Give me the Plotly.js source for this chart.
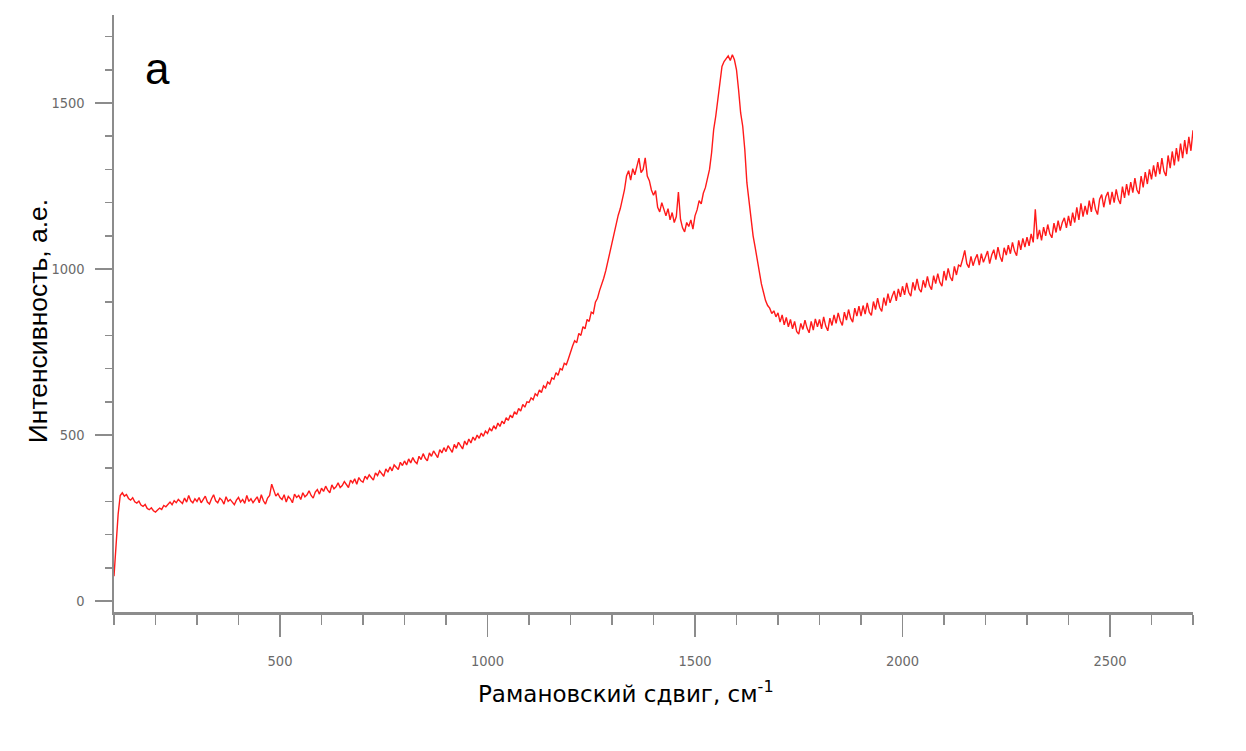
<!DOCTYPE html>
<html>
<head>
<meta charset="utf-8">
<script src="https://cdn.plot.ly/plotly-3.0.1.min.js"></script>
<style>html,body{margin:0;padding:0;background:#fff;}#chart{width:1246px;height:751px;}</style>
</head>
<body>
<div id="chart"></div>
<script>
// Raman shift, cm^-1 (step 5, 100 .. 2700)
const ramanShift = [];
for (let v = 100; v <= 2700; v += 5) ramanShift.push(v);

// Intensity, a.u., one row per 100 cm^-1
const intensity = [
 75,165,262,318,326,316,321,309,304,311,299,295,301,289,285,291,279,275,281,272,
 268,274,280,276,288,284,292,298,290,302,296,306,300,294,310,298,318,302,296,308,
 300,312,296,305,316,298,292,308,320,302,296,310,304,292,314,300,306,298,290,304,
 312,298,306,294,318,300,308,296,304,314,296,320,302,292,310,318,352,330,316,324,
 312,306,320,298,315,308,296,322,312,318,306,326,314,320,332,318,310,328,336,322,
 340,330,346,334,326,350,338,344,356,342,348,360,350,342,364,356,368,352,372,362,
 358,376,368,380,372,364,386,378,392,382,376,398,388,404,392,410,402,396,418,408,
 422,410,428,416,432,420,414,436,426,444,430,422,446,436,452,440,432,456,446,462,
 450,468,456,448,472,460,478,466,458,482,470,488,476,494,484,500,490,506,496,512,
 505,520,512,528,518,536,526,542,534,552,544,560,552,570,562,580,572,592,584,600,
 598,612,606,624,618,636,628,648,642,660,654,672,668,688,680,700,696,716,712,730,
 752,768,784,778,806,800,826,820,848,842,870,866,900,912,935,952,972,995,1022,1052,
 1085,1110,1132,1162,1182,1212,1238,1280,1296,1268,1302,1284,1310,1334,1290,1300,1335,1280,1266,1238,
 1222,1236,1186,1172,1200,1176,1160,1182,1148,1170,1140,1158,1232,1150,1124,1112,1140,1128,1148,1120,
 1160,1178,1206,1196,1228,1245,1275,1300,1350,1420,1460,1505,1550,1610,1625,1632,1642,1628,1645,1630,
 1600,1540,1470,1430,1360,1260,1200,1150,1100,1065,1030,985,955,930,905,890,882,866,874,856,
 868,840,862,832,854,826,848,820,842,812,804,836,818,846,822,808,842,816,850,826,
 848,820,856,828,814,852,830,862,836,868,844,830,870,846,878,852,840,882,858,888,
 858,890,864,898,870,860,902,878,912,884,872,914,890,926,898,918,934,904,940,916,
 948,922,958,930,918,960,936,970,940,930,966,944,978,950,938,980,956,986,960,948,
 994,966,1002,976,964,1008,982,1012,1008,1030,1056,1016,1004,1038,1010,1030,1044,1012,1046,1020,
 1036,1054,1016,1042,1058,1028,1066,1038,1022,1064,1042,1072,1046,1080,1054,1040,1086,1058,1092,1066,
 1096,1070,1106,1080,1180,1090,1118,1086,1126,1100,1134,1106,1094,1138,1110,1146,1116,1140,1154,1124,
 1160,1130,1170,1140,1186,1148,1198,1158,1190,1164,1206,1172,1214,1180,1164,1210,1224,1186,1218,1232,
 1194,1232,1200,1240,1210,1196,1248,1214,1256,1222,1262,1230,1274,1238,1226,1280,1246,1292,1256,1300,
 1270,1312,1278,1322,1286,1334,1294,1280,1342,1304,1354,1312,1364,1324,1378,1334,1388,1346,1398,1356,
 1418
];

const xMajorTicks = [500, 1000, 1500, 2000, 2500];
const yMajorTicks = [0, 500, 1000, 1500];

const xTitle = 'Рамановский сдвиг, см<sup>-1</sup>';
const yTitle = 'Интенсивность, а.е.';
const panelLabel = 'a';

const axisGrey = '#8c8c8c';
const tickFont = {family: '"DejaVu Sans Condensed", "Liberation Sans", sans-serif', size: 14.5, color: '#6a6a6a'};

const trace = {
  x: ramanShift,
  y: intensity,
  type: 'scatter',
  mode: 'lines',
  line: {color: '#ff1a1a', width: 1.4},
  hoverinfo: 'skip'
};

const layout = {
  width: 1246,
  height: 751,
  margin: {l: 114, r: 53, t: 15, b: 139},
  paper_bgcolor: '#ffffff',
  plot_bgcolor: '#ffffff',
  showlegend: false,
  xaxis: {
    range: [100, 2700],
    tickmode: 'array',
    tickvals: xMajorTicks,
    ticktext: xMajorTicks.map(String),
    ticks: 'outside',
    ticklen: 22,
    tickwidth: 1.5,
    tickcolor: axisGrey,
    ticklabelstandoff: 12,
    minor: {dtick: 100, tick0: 0, ticks: 'outside', ticklen: 10, tickwidth: 1.5, tickcolor: axisGrey, showgrid: false},
    showline: true,
    linecolor: axisGrey,
    linewidth: 2.5,
    showgrid: false,
    zeroline: false,
    tickfont: tickFont,
    fixedrange: true
  },
  yaxis: {
    range: [-33, 1765],
    tickmode: 'array',
    tickvals: yMajorTicks,
    ticktext: yMajorTicks.map(String),
    ticks: 'outside',
    ticklen: 17,
    tickwidth: 1.5,
    tickcolor: axisGrey,
    ticklabelstandoff: 7,
    minor: {dtick: 100, tick0: 0, ticks: 'outside', ticklen: 7, tickwidth: 1.5, tickcolor: axisGrey, showgrid: false},
    showline: true,
    linecolor: axisGrey,
    linewidth: 2.5,
    showgrid: false,
    zeroline: false,
    tickfont: tickFont,
    fixedrange: true
  },
  annotations: [
    {
      text: xTitle, xref: 'paper', yref: 'paper',
      x: 0.4745, y: -0.134, xanchor: 'center', yanchor: 'middle',
      showarrow: false,
      font: {family: '"DejaVu Sans", Verdana, sans-serif', size: 23, color: '#000'}
    },
    {
      text: yTitle, xref: 'paper', yref: 'paper',
      x: -0.0704, y: 0.487, xanchor: 'center', yanchor: 'middle',
      textangle: -90, showarrow: false,
      font: {family: '"Liberation Sans", Arial, sans-serif', size: 26.5, color: '#000'}
    },
    {
      text: panelLabel, xref: 'paper', yref: 'paper',
      x: 0.0399, y: 0.911, xanchor: 'center', yanchor: 'middle',
      showarrow: false,
      font: {family: '"Liberation Sans", Arial, sans-serif', size: 44, color: '#000'}
    }
  ]
};

Plotly.newPlot('chart', [trace], layout, {displayModeBar: false, staticPlot: true});
</script>
</body>
</html>
